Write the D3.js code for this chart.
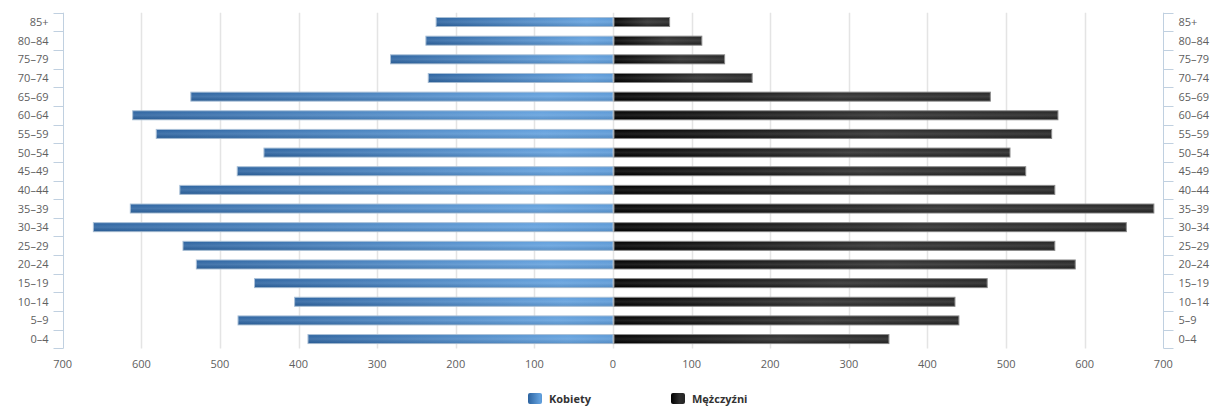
<!DOCTYPE html>
<html>
<head>
<meta charset="utf-8">
<title>Piramida wieku</title>
<style>
  body { margin: 0; background: #fff; }
  svg { display: block; font-family: "Open Sans", sans-serif; }
  .tick-label { font-size: 11px; fill: #606060; }
  .grid line { stroke: #e4e4e4; stroke-width: 1.5px; }
  .axis-line { stroke: #c0d0e0; stroke-width: 1px; fill: none; }
  .legend text { font-size: 11px; font-weight: bold; fill: #333; }
</style>
</head>
<body>
<script src="https://cdn.jsdelivr.net/npm/d3@7"></script>
<script>

var width = 1214,
    height = 408;

// age groups, top to bottom
var groups = ["85+", "80–84", "75–79", "70–74", "65–69", "60–64", "55–59", "50–54", "45–49",
              "40–44", "35–39", "30–34", "25–29", "20–24", "15–19", "10–14", "5–9", "0–4"];

var women = [225, 238, 283, 235, 537, 611, 581, 444, 478,
             551, 614, 661, 547, 530, 456, 405, 477, 388];
var men   = [72, 113, 142, 177, 480, 566, 558, 505, 525,
             562, 688, 653, 562, 588, 476, 435, 440, 351];

var seriesNames = ["Kobiety", "Mężczyźni"];
var xTicks = [-700, -600, -500, -400, -300, -200, -100, 0, 100, 200, 300, 400, 500, 600, 700];

var plot = {left: 62.7, right: 1163.3, top: 12.7, bottom: 348.4};

var x = d3.scaleLinear().domain([-700, 700]).range([plot.left, plot.right]);
var y = d3.scaleBand().domain(groups).range([plot.top, plot.bottom]).padding(0);
var barH = 9;

var svg = d3.select("body").append("svg")
    .attr("width", width)
    .attr("height", height);

var defs = svg.append("defs");

// blue: dark at outer end, light toward the centre
var gBlue = defs.append("linearGradient").attr("id", "g-blue");
gBlue.append("stop").attr("offset", "0%").attr("stop-color", "#2c63a0");
gBlue.append("stop").attr("offset", "85%").attr("stop-color", "#62a0dd");
gBlue.append("stop").attr("offset", "100%").attr("stop-color", "#5a98d6");

// black: pure black at the centre, dark grey further out
var gBlack = defs.append("linearGradient").attr("id", "g-black");
gBlack.append("stop").attr("offset", "0%").attr("stop-color", "#000");
gBlack.append("stop").attr("offset", "60%").attr("stop-color", "#2e2e2e");
gBlack.append("stop").attr("offset", "100%").attr("stop-color", "#242424");

// soft vertical sheen on top of each bar
var gSheen = defs.append("linearGradient").attr("id", "g-sheen")
    .attr("x1", 0).attr("y1", 0).attr("x2", 0).attr("y2", 1);
gSheen.append("stop").attr("offset", "0%").attr("stop-color", "#fff").attr("stop-opacity", 0);
gSheen.append("stop").attr("offset", "50%").attr("stop-color", "#fff").attr("stop-opacity", 0.12);
gSheen.append("stop").attr("offset", "100%").attr("stop-color", "#000").attr("stop-opacity", 0.08);

// vertical grid
svg.append("g").attr("class", "grid")
  .selectAll("line")
  .data(xTicks.filter(function(d) { return Math.abs(d) < 700; }))
  .enter().append("line")
    .attr("x1", function(d) { return Math.round(x(d)) + 0.5; })
    .attr("x2", function(d) { return Math.round(x(d)) + 0.5; })
    .attr("y1", plot.top)
    .attr("y2", plot.bottom);

// bottom labels (absolute values)
svg.append("g").selectAll("text")
  .data(xTicks)
  .enter().append("text")
    .attr("class", "tick-label")
    .attr("x", function(d) { return x(d); })
    .attr("y", 368)
    .attr("text-anchor", "middle")
    .text(function(d) { return Math.abs(d); });

// left and right category axes
var bounds = groups.map(function(g) { return y(g); }).concat([plot.bottom]);

function drawAxis(xPos, dir) {
  var g = svg.append("g");
  g.append("line").attr("class", "axis-line")
    .attr("x1", xPos).attr("x2", xPos)
    .attr("y1", plot.top).attr("y2", plot.bottom);
  g.selectAll("line.tk")
    .data(bounds)
    .enter().append("line")
      .attr("class", "axis-line tk")
      .attr("x1", xPos).attr("x2", xPos + dir * 10)
      .attr("y1", function(d) { return Math.round(d) + 0.5; })
      .attr("y2", function(d) { return Math.round(d) + 0.5; });
  g.selectAll("text")
    .data(groups)
    .enter().append("text")
      .attr("class", "tick-label")
      .attr("x", dir < 0 ? xPos - 15 : xPos + 15)
      .attr("y", function(d) { return y(d) + y.bandwidth() / 2 + 4; })
      .attr("text-anchor", dir < 0 ? "end" : "start")
      .text(function(d) { return d; });
}
drawAxis(Math.round(plot.left) + 0.5, -1);
drawAxis(Math.round(plot.right) + 0.5, 1);

// bars
function barY(d, i) { return y(groups[i]) + (y.bandwidth() - barH) / 2; }

var left = svg.append("g").attr("id", "women");
left.selectAll("rect.bar")
  .data(women)
  .enter().append("rect")
    .attr("class", "bar")
    .attr("x", function(d) { return x(-d); })
    .attr("y", barY)
    .attr("width", function(d) { return x(0) - x(-d); })
    .attr("height", barH)
    .attr("fill", "url(#g-blue)")
    .attr("stroke", "#a9c0d8")
    .attr("stroke-width", 1);
left.selectAll("rect.sheen")
  .data(women)
  .enter().append("rect")
    .attr("class", "sheen")
    .attr("x", function(d) { return x(-d); })
    .attr("y", barY)
    .attr("width", function(d) { return x(0) - x(-d); })
    .attr("height", barH)
    .attr("fill", "url(#g-sheen)");

var right = svg.append("g").attr("id", "men");
right.selectAll("rect.bar")
  .data(men)
  .enter().append("rect")
    .attr("class", "bar")
    .attr("x", x(0) + 1)
    .attr("y", barY)
    .attr("width", function(d) { return x(d) - x(0) - 1; })
    .attr("height", barH)
    .attr("fill", "url(#g-black)")
    .attr("stroke", "#8a8a8a")
    .attr("stroke-width", 1);
right.selectAll("rect.sheen")
  .data(men)
  .enter().append("rect")
    .attr("class", "sheen")
    .attr("x", x(0) + 1)
    .attr("y", barY)
    .attr("width", function(d) { return x(d) - x(0) - 1; })
    .attr("height", barH)
    .attr("fill", "url(#g-sheen)");

// legend
var legend = svg.append("g").attr("class", "legend");
var legendX = [528, 671];
var legendFill = ["url(#g-blue)", "url(#g-black)"];
seriesNames.forEach(function(name, i) {
  legend.append("rect")
    .attr("x", legendX[i]).attr("y", 393)
    .attr("width", 14).attr("height", 11)
    .attr("rx", 2)
    .attr("fill", legendFill[i]);
  legend.append("text")
    .attr("x", legendX[i] + 21).attr("y", 403)
    .text(name);
});

</script>
</body>
</html>
